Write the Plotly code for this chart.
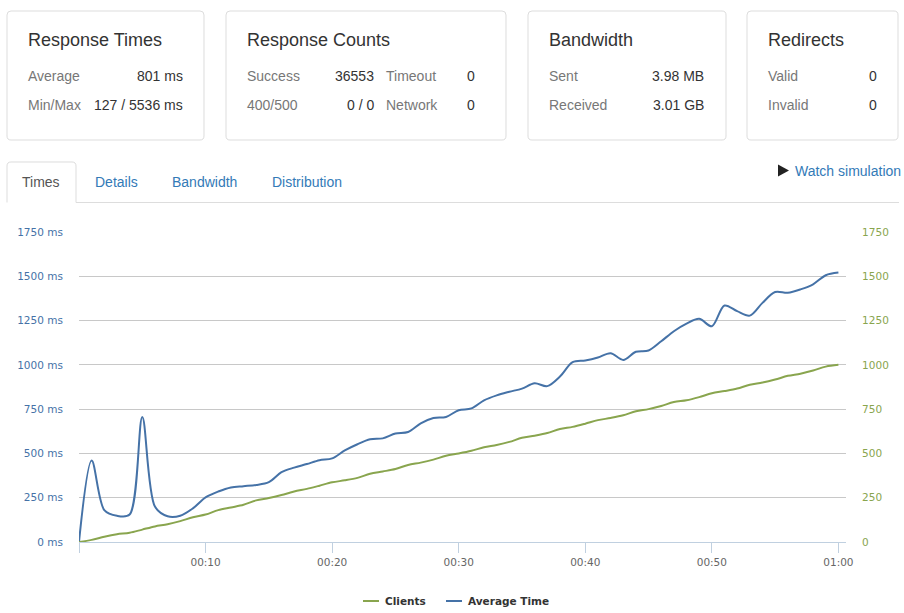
import plotly.graph_objects as go

# ---------------- data ----------------
seconds = list(range(61))
clients = [0, 12, 30, 44, 52, 70, 88, 100, 118, 140, 155, 180, 195, 210, 235, 248,
           265, 285, 300, 318, 337, 348, 362, 385, 398, 412, 435, 448, 465, 487, 500,
           515, 535, 548, 565, 588, 600, 615, 638, 650, 668, 688, 700, 715, 738, 750,
           768, 790, 800, 818, 840, 852, 866, 888, 900, 917, 938, 950, 968, 990, 1000]
avg_time = [0, 460, 180, 148, 155, 706, 200, 145, 148, 190, 252, 285, 308, 315, 322,
            338, 394, 420, 440, 462, 472, 517, 552, 580, 585, 612, 621, 670, 700, 706,
            744, 754, 800, 828, 848, 866, 896, 880, 934, 1015, 1025, 1042, 1066, 1028,
            1074, 1081, 1133, 1190, 1233, 1260, 1218, 1335, 1303, 1278, 1350, 1411,
            1407, 1426, 1455, 1506, 1521]
y_ticks = [0, 250, 500, 750, 1000, 1250, 1500, 1750]
left_tick_labels = [f"{v} ms" for v in y_ticks]
right_tick_labels = [str(v) for v in y_ticks]
x_tick_vals = [0, 10, 20, 30, 40, 50, 60]
x_tick_labels = ["", "00:10", "00:20", "00:30", "00:40", "00:50", "01:00"]

cards = [
    ("Response Times", [("Average", "801 ms"), ("Min/Max", "127 / 5536 ms")]),
    ("Response Counts", [("Success", "36553"), ("400/500", "0 / 0")]),
    ("Bandwidth", [("Sent", "3.98 MB"), ("Received", "3.01 GB")]),
    ("Redirects", [("Valid", "0"), ("Invalid", "0")]),
]
extra_counts = [("Timeout", "0"), ("Network", "0")]
tabs = ["Times", "Details", "Bandwidth", "Distribution"]

# ---------------- geometry (pixels) ----------------
W, H = 904, 613
L, R, T, B = 79, 846, 232, 542

def px(x):
    return (x - L) / (R - L)

def py(y):
    return (B - y) / (B - T)

def path(points_cmds):
    out = []
    for cmd in points_cmds:
        c = cmd[0]
        coords = cmd[1:]
        pts = []
        for i in range(0, len(coords), 2):
            pts.append(f"{px(coords[i]):.5f},{py(coords[i+1]):.5f}")
        out.append(c + " " + " ".join(pts))
    return " ".join(out)

def rrect(x0, y0, x1, y1, r=4):
    return path([
        ("M", x0 + r, y0), ("L", x1 - r, y0), ("Q", x1, y0, x1, y0 + r),
        ("L", x1, y1 - r), ("Q", x1, y1, x1 - r, y1), ("L", x0 + r, y1),
        ("Q", x0, y1, x0, y1 - r), ("L", x0, y0 + r), ("Q", x0, y0, x0 + r, y0),
    ]) + " Z"

BLUE = "#4572A7"
GREEN = "#89A54E"
SANS = "Liberation Sans, Arial, sans-serif"
CHART_FONT = "DejaVu Sans, Verdana, sans-serif"

fig = go.Figure()
fig.add_trace(go.Scatter(
    x=seconds, y=clients, name="Clients", mode="lines", yaxis="y2",
    line=dict(color=GREEN, width=2, shape="spline", smoothing=0.9),
    showlegend=False, hoverinfo="x+y"))
fig.add_trace(go.Scatter(
    x=seconds, y=avg_time, name="Average Time", mode="lines", yaxis="y",
    line=dict(color=BLUE, width=2, shape="spline", smoothing=0.9),
    showlegend=False, hoverinfo="x+y"))

shapes = []
annotations = []

def text(x, y, s, size=14, color="#333", anchor="left", family=SANS, bold=False):
    annotations.append(dict(
        x=px(x), y=py(y), xref="paper", yref="paper", text=(f"<b>{s}</b>" if bold else s),
        showarrow=False, xanchor=anchor, yanchor="middle",
        font=dict(size=size, color=color, family=family), borderpad=0))

# cards
card_boxes = [(7, 11, 204, 140), (226, 11, 506, 140), (528, 11, 726, 140), (747, 11, 898, 140)]
value_right = [184, 375, 705, 878]
for (x0, y0, x1, y1), (title, rows), vr in zip(card_boxes, cards, value_right):
    shapes.append(dict(type="path", xref="paper", yref="paper", path=rrect(x0, y0, x1, y1),
                       line=dict(color="#dddddd", width=1), fillcolor="white", layer="below"))
    lx = x0 + 20
    text(lx, 40, title, size=18, color="#333")
    for (lab, val), yy in zip(rows, [75.5, 105]):
        text(lx, yy, lab, size=14, color="#777")
        text(vr, yy, val, size=14, color="#333", anchor="right")
for (lab, val), yy in zip(extra_counts, [75.5, 105]):
    text(385, yy, lab, size=14, color="#777")
    text(476, yy, val, size=14, color="#333", anchor="right")

# tabs
shapes.append(dict(type="path", xref="paper", yref="paper",
                   path=path([("M", 7, 202.5), ("L", 7, 166), ("Q", 7, 162, 11, 162),
                              ("L", 72, 162), ("Q", 76, 162, 76, 166), ("L", 76, 202.5)]),
                   line=dict(color="#dddddd", width=1)))
shapes.append(dict(type="line", xref="paper", yref="paper", x0=px(76), x1=px(899),
                   y0=py(202.5), y1=py(202.5), line=dict(color="#dddddd", width=1)))
tab_x = [41, 94, 171, 271]
for i, (tname, tx) in enumerate(zip(tabs, tab_x)):
    if i == 0:
        text(tx, 182, tname, size=14, color="#555", anchor="center")
    else:
        text(tx, 182, tname, size=14, color="#337ab7")

# watch simulation
shapes.append(dict(type="path", xref="paper", yref="paper",
                   path=path([("M", 778, 164.5), ("L", 789, 170.5), ("L", 778, 176.5)]) + " Z",
                   fillcolor="#222", line=dict(width=0)))
text(794, 171, "Watch simulation", size=14, color="#337ab7")

# manual legend
leg_y = 601
shapes.append(dict(type="line", xref="paper", yref="paper", x0=px(363), x1=px(379),
                   y0=py(leg_y), y1=py(leg_y), line=dict(color=GREEN, width=2)))
text(384, leg_y, "Clients", size=10.5, color="#333", family=CHART_FONT, bold=True)
shapes.append(dict(type="line", xref="paper", yref="paper", x0=px(446), x1=px(462),
                   y0=py(leg_y), y1=py(leg_y), line=dict(color=BLUE, width=2)))
text(467, leg_y, "Average Time", size=10.5, color="#333", family=CHART_FONT, bold=True)

fig.update_layout(
    width=W, height=H,
    margin=dict(l=L, r=W - R, t=T, b=H - B, pad=0),
    paper_bgcolor="white", plot_bgcolor="white",
    font=dict(family=CHART_FONT, size=10.5, color="#666"),
    showlegend=False,
    xaxis=dict(range=[0, 60.6], tickvals=x_tick_vals, ticktext=x_tick_labels,
               ticks="outside", ticklen=10, tickcolor="#C0D0E0", tickwidth=1,
               showline=True, linecolor="#C0D0E0", linewidth=1,
               showgrid=False, zeroline=False,
               tickfont=dict(family=CHART_FONT, size=10.5, color="#666")),
    yaxis=dict(range=[0, 1750], tickvals=y_ticks, ticktext=left_tick_labels,
               showgrid=True, gridcolor="#C8C8C8", gridwidth=1, zeroline=False,
               showline=False, ticks="outside", ticklen=13, tickcolor="rgba(0,0,0,0)",
               tickfont=dict(family=CHART_FONT, size=10.5, color=BLUE)),
    yaxis2=dict(range=[0, 1750], tickvals=y_ticks, ticktext=right_tick_labels,
                overlaying="y", side="right", showgrid=False, zeroline=False,
                showline=False, ticks="outside", ticklen=13, tickcolor="rgba(0,0,0,0)",
                tickfont=dict(family=CHART_FONT, size=10.5, color=GREEN)),
    shapes=shapes, annotations=annotations,
)

fig.write_html("out.html", config={"displayModeBar": False},
               post_script="document.body.style.margin='0px';")
